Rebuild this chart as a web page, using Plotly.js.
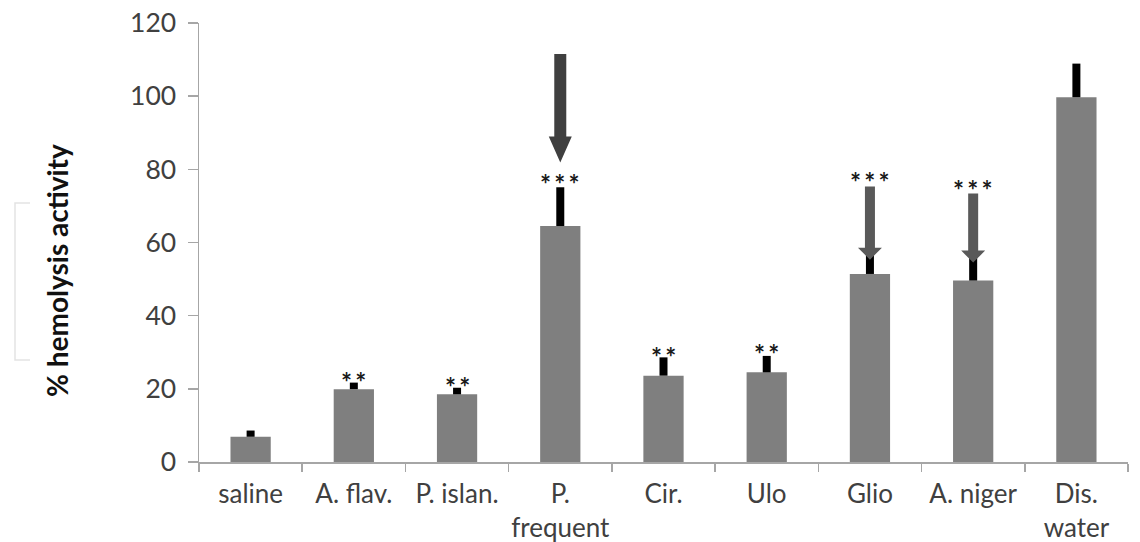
<!DOCTYPE html>
<html>
<head>
<meta charset="utf-8">
<script src="https://cdn.plot.ly/plotly-3.0.1.min.js"></script>
<style>html,body{margin:0;padding:0;background:#fff;}#chart{width:1140px;height:542px;}</style>
</head>
<body>
<div id="chart"></div>
<script>
// ---- data ----
const categories = ['saline', 'A. flav.', 'P. islan.', 'P.<br>frequent', 'Cir.', 'Ulo', 'Glio', 'A. niger', 'Dis.<br>water'];
const hemolysis = [6.9, 19.9, 18.5, 64.5, 23.6, 24.5, 51.4, 49.6, 99.7];
const errorUpper = [1.7, 1.8, 1.8, 10.6, 5.0, 4.5, 5.6, 6.4, 9.2];
const stars = ['', '**', '**', '***', '**', '**', '***', '***', ''];
const starLevel = [null, 23.8, 22.5, 77.8, 30.7, 31.5, 78.4, 76.4, null];
const arrowCategory = [3, 6, 7];
const arrowTop = [111.5, 75.3, 73.4];
const arrowTip = [81.9, 55.3, 54.5];
const yTicks = [0, 20, 40, 60, 80, 100, 120];

// ---- layout constants ----
const W = 1140, H = 542;
const M = {l: 199, r: 12, t: 23, b: 80};
const plotW = W - M.l - M.r, plotH = H - M.t - M.b;
const xr = [-0.5, categories.length - 0.5];
const yr = [0, 120];
const pxX = (xr[1] - xr[0]) / plotW;   // data units per px (x)
const pxY = (yr[1] - yr[0]) / plotH;   // data units per px (y)

const idx = categories.map((_, i) => i);
const boundaries = categories.map((_, i) => i - 0.5).concat([categories.length - 0.5]);

const arrowStyles = [
  {shaft: 12, head: 23, headLen: 26, color: '#3f3f3f'},
  {shaft: 10, head: 24, headLen: 12, color: '#595959'},
  {shaft: 10, head: 24, headLen: 12, color: '#595959'}
];

const shapes = arrowCategory.map((c, k) => {
  const s = arrowStyles[k];
  const hs = s.shaft / 2 * pxX, hh = s.head / 2 * pxX;
  const base = arrowTip[k] + s.headLen * pxY;
  const top = arrowTop[k];
  const p = [
    [c - hs, top], [c + hs, top], [c + hs, base], [c + hh, base],
    [c, arrowTip[k]], [c - hh, base], [c - hs, base]
  ];
  return {
    type: 'path', xref: 'x', yref: 'y', layer: 'above',
    path: 'M' + p.map(q => q[0] + ',' + q[1]).join(' L') + ' Z',
    fillcolor: s.color, line: {width: 0}
  };
});

// faint bracket at the left edge
const bx0 = (15 - M.l) / plotW, bx1 = (30 - M.l) / plotW;
const by0 = (H - M.b - 360) / plotH, by1 = (H - M.b - 203) / plotH;
shapes.push({type: 'path', xref: 'paper', yref: 'paper',
  path: `M${bx1},${by1} L${bx0},${by1} L${bx0},${by0} L${bx1},${by0}`,
  line: {color: '#e3e3e3', width: 1.5}});

const annotations = [];
stars.forEach((s, i) => {
  if (!s) return;
  annotations.push({
    x: i, y: starLevel[i], xref: 'x', yref: 'y', text: s.split('').join('\u2009'),
    showarrow: false, yanchor: 'middle', yshift: -7,
    font: {family: 'Lato, sans-serif', size: 26, color: '#1a1a1a', weight: 'bold'}
  });
});
annotations.push({
  xref: 'paper', yref: 'paper', x: (57 - M.l) / plotW, y: (H - M.b - 271) / plotH,
  text: '% hemolysis activity', textangle: -90, showarrow: false,
  xanchor: 'center', yanchor: 'middle',
  font: {family: 'Lato, sans-serif', size: 28, color: '#111', weight: 'bold'}
});

const trace = {
  type: 'bar', x: idx, y: hemolysis, width: 0.39,
  marker: {color: '#7f7f7f', line: {width: 0}},
  error_y: {type: 'data', symmetric: false, array: errorUpper,
    arrayminus: errorUpper.map(() => 0), color: '#000', thickness: 8, width: 0},
  hoverinfo: 'none'
};

const tickFont = {family: 'Lato, sans-serif', size: 26, color: '#404040'};

const layout = {
  width: W, height: H, margin: M,
  paper_bgcolor: '#fff', plot_bgcolor: '#fff', showlegend: false,
  font: tickFont,
  xaxis: {
    range: xr, tickmode: 'array', tickvals: idx, ticktext: categories,
    ticks: '', showgrid: false, zeroline: false,
    showline: true, linecolor: '#a6a6a6', linewidth: 1.5,
    tickfont: tickFont,
    ticklabelstandoff: 8,
    minor: {tickmode: 'array', tickvals: boundaries, ticks: 'outside',
      ticklen: 8, tickcolor: '#a6a6a6', tickwidth: 1.5, showgrid: false}
  },
  yaxis: {
    range: yr, tickmode: 'array', tickvals: yTicks, ticks: 'outside',
    ticklen: 10, tickcolor: '#a6a6a6', tickwidth: 1.5,
    showgrid: false, zeroline: false,
    showline: true, linecolor: '#a6a6a6', linewidth: 1.5,
    tickfont: {family: 'Lato, sans-serif', size: 26.5, color: '#404040'},
    ticklabelstandoff: 6
  },
  shapes: shapes, annotations: annotations
};

Plotly.newPlot('chart', [trace], layout, {displayModeBar: false, staticPlot: true});
</script>
</body>
</html>
